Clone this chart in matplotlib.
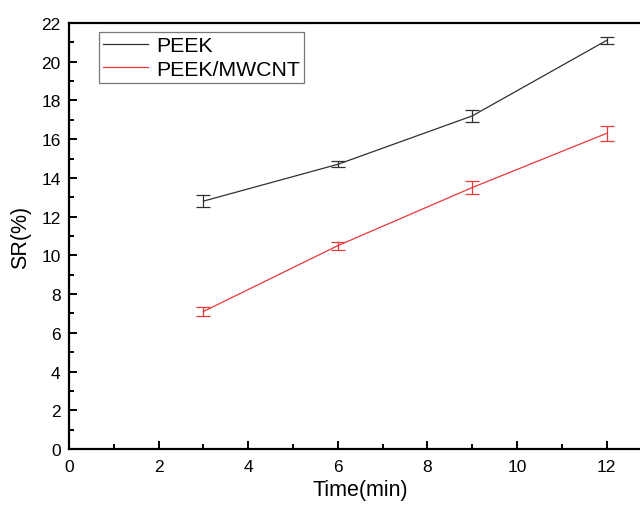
import matplotlib
matplotlib.use("Agg")
import matplotlib.pyplot as plt
from matplotlib.lines import Line2D
from matplotlib.ticker import MultipleLocator

time_min = [3, 6, 9, 12]
peek = [12.8, 14.7, 17.2, 21.1]
peek_err = [0.3, 0.15, 0.3, 0.2]
mwcnt = [7.1, 10.5, 13.5, 16.3]
mwcnt_err = [0.25, 0.2, 0.35, 0.4]

plt.rcParams["font.family"] = ["Liberation Sans", "DejaVu Sans"]

fig = plt.figure(figsize=(6.4, 5.06), dpi=100)
ax = fig.add_axes([0.1078, 0.1107, 0.91, 0.8419])

black = "#303030"
red = "#e8393a"
ax.errorbar(time_min, peek, yerr=peek_err, color=black, lw=0.9,
            capsize=5, elinewidth=0.9, capthick=0.9)
ax.errorbar(time_min, mwcnt, yerr=mwcnt_err, color=red, lw=0.9,
            capsize=5, elinewidth=0.9, capthick=0.9)

ax.set_xlim(0, 13)
ax.set_ylim(0, 22)
ax.xaxis.set_major_locator(MultipleLocator(2))
ax.xaxis.set_minor_locator(MultipleLocator(1))
ax.yaxis.set_major_locator(MultipleLocator(2))
ax.yaxis.set_minor_locator(MultipleLocator(1))
ax.tick_params(which="both", direction="in", width=1.4, labelsize=12.5)
ax.tick_params(which="major", length=6)
ax.tick_params(which="minor", length=3.5)
ax.tick_params(axis="x", which="major", pad=7)
ax.tick_params(axis="y", which="major", pad=6)
for s in ax.spines.values():
    s.set_linewidth(1.6)
ax.spines["right"].set_visible(False)

ax.set_xlabel("Time(min)", fontsize=15.5, labelpad=4)
ax.set_ylabel("SR(%)", fontsize=15.5, labelpad=7)

handles = [Line2D([], [], color=black, lw=0.9),
           Line2D([], [], color=red, lw=0.9)]
leg = ax.legend(handles, ["PEEK", "PEEK/MWCNT"], loc="upper left",
                bbox_to_anchor=(0.0515, 0.979), fontsize=15.3,
                frameon=True, fancybox=False, handlelength=2.1,
                borderpad=0.2, labelspacing=0.22, handletextpad=0.4,
                borderaxespad=0)
leg.get_frame().set_edgecolor("#555555")
leg.get_frame().set_linewidth(0.9)

fig.savefig("out.png", dpi=100)
